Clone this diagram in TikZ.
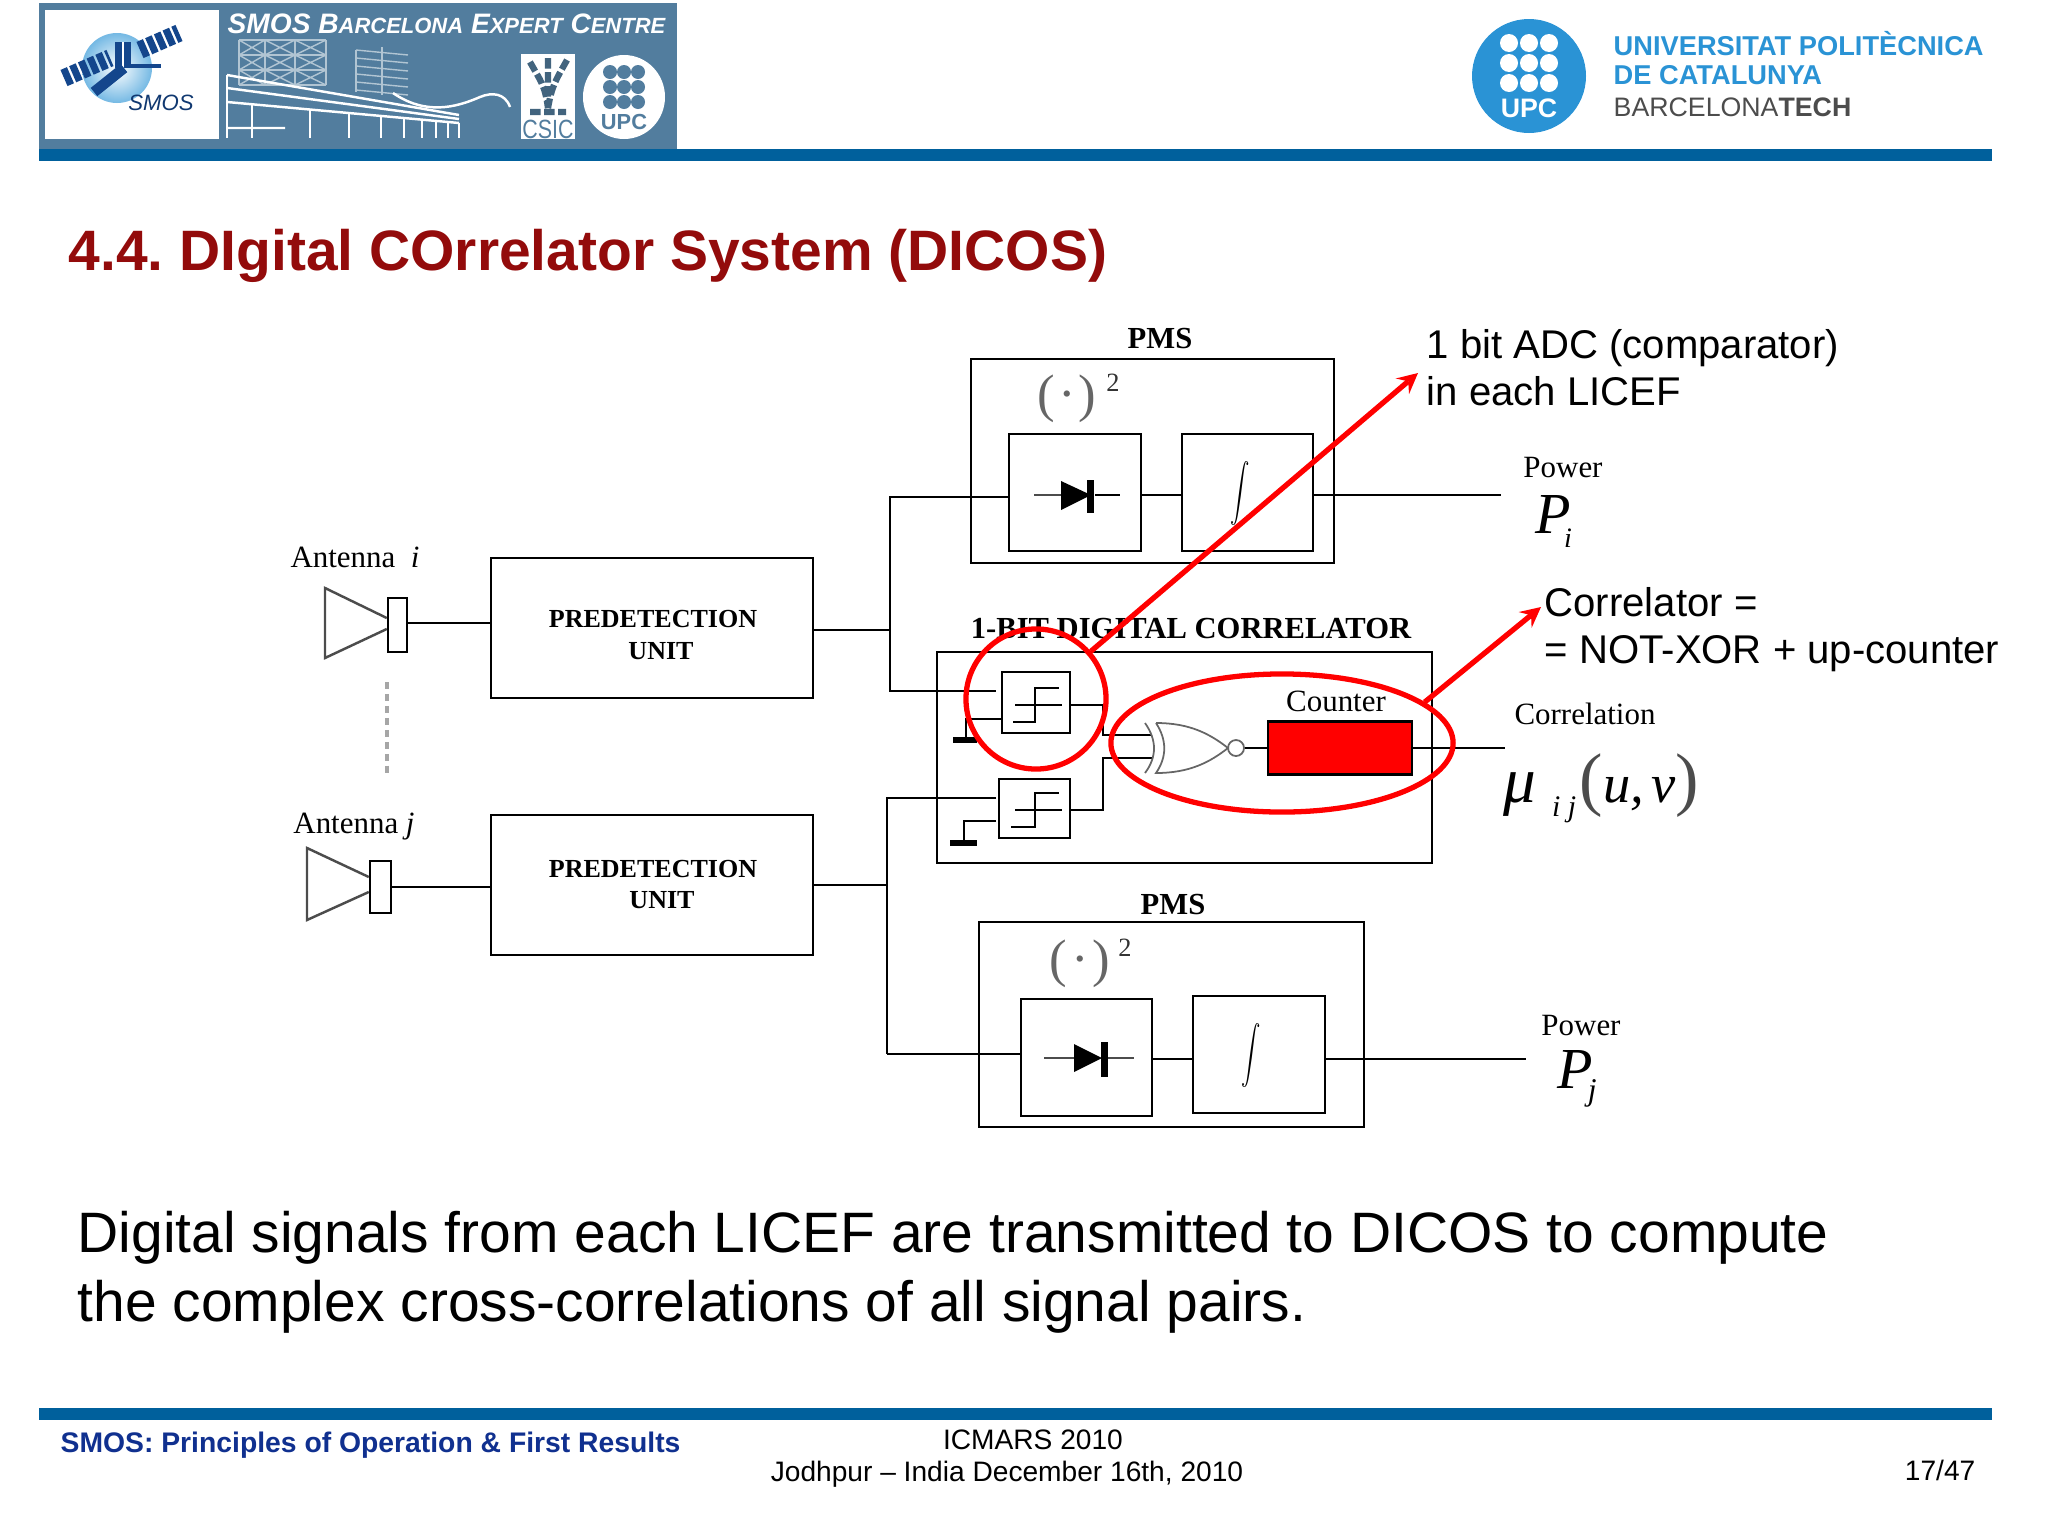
\documentclass[tikz,border=0pt]{standalone}
\usepackage{fontspec}
\setmainfont{Liberation Sans}
\newfontfamily\figserif{Liberation Serif}
\usetikzlibrary{shapes.geometric}
\frenchspacing
\definecolor{barblue}{HTML}{00609C}
\definecolor{bannerblue}{HTML}{527D9E}
\definecolor{logoblue}{HTML}{2A93D5}
\definecolor{navyblue}{HTML}{14468C}
\definecolor{footblue}{HTML}{10308F}
\definecolor{titlered}{HTML}{930B0B}
\tikzset{
    blockbox/.style 2 args={draw=black, line width=0.7pt, inner sep=0pt,
        minimum width=#1*0.01cm, minimum height=#2*0.01cm},
    wire/.style={draw=black, line width=0.7pt},
    redring/.style={draw=red, line width=1.5pt, inner sep=0pt},
    redarrow/.style={draw=red, line width=1.5pt, -stealth},
    figlabel/.style={font=\figserif\fontsize{8.8}{10}\selectfont, inner sep=0pt},
    figbold/.style={font=\figserif\bfseries\fontsize{8.7}{10}\selectfont, inner sep=0pt},
    unitlabel/.style={font=\figserif\bfseries\fontsize{7.4}{9}\selectfont, inner sep=0pt},
    bignote/.style={font=\fontsize{11.4}{13.3}\selectfont, align=left, anchor=west, inner sep=0pt},
    footlabel/.style={font=\fontsize{8}{9}\selectfont, inner sep=0pt},
    mathbig/.style={font=\figserif\itshape\fontsize{16.5}{18}\selectfont, inner sep=0pt, anchor=base west},
    squarelabel/.style={font=\figserif\fontsize{15}{17}\selectfont, text=black!60, inner sep=0pt},
    powertwo/.style={font=\figserif\fontsize{7.5}{9}\selectfont, text=black!80, inner sep=0pt},
    intsign/.style={inner sep=0pt, xscale=0.55, yscale=0.82},
}
\begin{document}
\begin{tikzpicture}[x=0.01cm, y=-0.01cm]
    \useasboundingbox (0,0) rectangle (2048,1536);
    % Banner
    \fill[bannerblue] (39,3) rectangle (677,149);
    \fill[white] (45,10) rectangle (219,139);
    \fill[barblue] (39,149) rectangle (1992,161);
    \node[inner sep=0pt, anchor=west, text=white, font=\bfseries\itshape\fontsize{8}{9}\selectfont] (bannertitle) at (227,24)
        {SMOS B{\fontsize{6.25}{9}\selectfont ARCELONA} E{\fontsize{6.25}{9}\selectfont XPERT} C{\fontsize{6.25}{9}\selectfont ENTRE}};
    % SMOS logo
    \shade[inner color=white, outer color=logoblue!65] (117,68) circle[radius=35];
    \draw[navyblue, line width=5pt, dash pattern=on 2pt off 0.7pt] (64,78) -- (110,58);
    \draw[navyblue, line width=5pt, dash pattern=on 2pt off 0.7pt] (140,50) -- (179,33);
    \fill[navyblue] (115,42) rectangle (131,68);
    \draw[white] (123,42) -- (123,68);
    \draw[navyblue, line width=3pt] (94,92) -- (124,68);
    \draw[navyblue, line width=1pt] (131,66) -- (161,66);
    \node[inner sep=0pt, text=navyblue!80!black, font=\itshape\fontsize{6.3}{8}\selectfont] (smoslabel) at (161,103) {SMOS};
    % Building
    \begin{scope}[white!55!bannerblue, line width=0.4pt]
        \foreach \tx in {239,265,295,326} \draw (\tx,40) -- (\tx,85);
        \foreach \ty in {40,55,70,85} \draw (239,\ty) -- (326,\ty);
        \foreach \ty in {40,55,70} {
            \draw (239,\ty) -- (265,\ty+15) (265,\ty) -- (239,\ty+15);
            \draw (265,\ty) -- (295,\ty+15) (295,\ty) -- (265,\ty+15);
            \draw (295,\ty) -- (326,\ty+15) (326,\ty) -- (295,\ty+15);
        }
        \foreach \ty in {50,58,66,74,82,90} \draw (356,\ty) -- (408,\ty+5);
        \draw (356,50) -- (356,92) (382,47) -- (382,95);
    \end{scope}
    \begin{scope}[white, line width=0.7pt]
        \draw (227,75) -- (459,115) (227,102) -- (459,123) (227,88) -- (459,119) (227,128) -- (285,128);
        \foreach \px in {227,252,310,349,381,404,422,436,448,459} \draw (\px,{102+(\px-227)*0.09}) -- (\px,138);
        \draw (227,75) -- (227,102);
        \draw (393,93) .. controls (425,115) and (455,108) .. (480,97) .. controls (492,92) and (505,93) .. (510,107);
    \end{scope}
    % CSIC and UPC marks of the banner
    \fill[white] (521,54) rectangle (575,139);
    \draw[bannerblue!80!black, line width=1.8pt, dash pattern=on 3pt off 1pt] (530,62) .. controls (540,80) and (545,85) .. (548,108) (567,60) .. controls (556,80) and (552,85) .. (548,108) (548,58) -- (548,108) (530,112) -- (566,112);
    \node[inner sep=0pt, text=bannerblue, xscale=0.81, font=\fontsize{7.5}{8}\selectfont] (csiclabel) at (548,129) {CSIC};
    \fill[white] (624,97) ellipse[x radius=41, y radius=42];
    \foreach \dx in {610,624,638} \foreach \dy in {72,87,102}
        \fill[bannerblue] (\dx,\dy) circle[radius=7];
    \node[inner sep=0pt, text=bannerblue, font=\bfseries\fontsize{6.2}{7}\selectfont] (upcsmall) at (624,122) {UPC};
    % UPC logo
    \fill[logoblue] (1529,76) circle[radius=57];
    \foreach \dx in {1509,1529,1549} \foreach \dy in {43,63,83}
        \fill[white] (\dx,\dy) circle[radius=9];
    \node[inner sep=0pt, text=white, font=\bfseries\fontsize{7.6}{9}\selectfont] (upclabel) at (1529,108) {UPC};
    \node[inner sep=0pt, anchor=west, text=logoblue, font=\bfseries\fontsize{7.75}{9}\selectfont] (upcnameA) at (1613,44) {UNIVERSITAT POLITÈCNICA};
    \node[inner sep=0pt, anchor=west, text=logoblue, font=\bfseries\fontsize{7.75}{9}\selectfont] (upcnameB) at (1613,75) {DE CATALUNYA};
    \node[inner sep=0pt, anchor=west, text=black!70, font=\fontsize{7.6}{9}\selectfont] (upcnameC) at (1613,107) {BARCELONA\textbf{TECH}};
    % Title
    \node[inner sep=0pt, anchor=west, text=titlered, font=\bfseries\fontsize{16.2}{19}\selectfont] (slidetitle) at (68,256)
        {4.4. DIgital COrrelator System (DICOS)};
    % Antennas
    \node[blockbox={19}{54}] (hornboxA) at (397.5,625) {};
    \node[blockbox={21}{52}] (hornboxB) at (380.5,887) {};
    \draw[black!70, line width=0.7pt] (hornboxA.west |- 0,618) -- (325,588) -- (325,658) -- (hornboxA.west |- 0,629);
    \draw[black!70, line width=0.7pt] (hornboxB.west |- 0,877) -- (307,848) -- (307,920) -- (hornboxB.west |- 0,892);
    \draw[black!35, line width=1.2pt, dash pattern=on 2pt off 1.4pt] (387,682) -- (387,777);
    \node[figlabel] (antennaA) at (355,557) {Antenna\ \ \textit{i}};
    \node[figlabel] (antennaB) at (354,827) {Antenna \textit{j}};
    % Predetection units
    \node[blockbox={322}{140}] (predA) at (652,628) {};
    \node[blockbox={322}{140}] (predB) at (652,885) {};
    \node[unitlabel] (predAtop) at (653,619) {PREDETECTION};
    \node[unitlabel] (predAbot) at (661,651) {UNIT};
    \node[unitlabel] (predBtop) at (653,869) {PREDETECTION};
    \node[unitlabel] (predBbot) at (662,900) {UNIT};
    \draw[wire] (hornboxA.east |- 0,623) -- (predA.west |- 0,623);
    \draw[wire] (hornboxB.east) -- (predB.west |- hornboxB.east);
    % PMS top
    \node[blockbox={363}{204}] (pmsA) at (1152.5,461) {};
    \node[blockbox={132}{117}] (diodeboxA) at (1075,492.5) {};
    \node[blockbox={131}{117}] (intboxA) at (1247.5,492.5) {};
    \node[figbold] (pmsAlabel) at (1160,339) {PMS};
    \node[squarelabel] (squareA) at (1067,399) {(\kern0.8pt·\kern0.8pt)};
    \node[powertwo] (twoA) at (1113,383) {2};
    \draw[black!70, line width=0.5pt] (1034,495) -- (1061,495);
    \draw[wire] (1095,495) -- (1120,495);
    \fill (1061,481) -- (1061,510) -- (1091,495) -- cycle;
    \fill (1087,480) rectangle (1094,513);
    \node[intsign] (intA) at (1240,494) {$\displaystyle\int$};
    \draw[wire] (diodeboxA.east |- 0,495) -- (intboxA.west |- 0,495);
    \coordinate (powerAend) at (1501,495);
    \draw[wire] (intboxA.east |- powerAend) -- (powerAend);
    \node[figlabel] (powerA) at (1563,468) {Power};
    \node[mathbig] (symA) at (1535,533) {P\raisebox{-4pt}{\fontsize{8}{10}\selectfont\kern-2pt i}};
    % Correlator
    \node[blockbox={495}{211}] (corrbox) at (1184.5,757.5) {};
    \node[figbold] (corrlabel) at (1191,629) {1-BIT DIGITAL CORRELATOR};
    \node[blockbox={68}{61}] (compA) at (1036,702.5) {};
    \node[blockbox={71}{59}] (compB) at (1034.5,808.5) {};
    % Step symbols
    \draw[wire] (1015,705) -- (1062,705);
    \draw[wire] (1013,722) -- (1035,722) -- (1035,688) -- (1059,688);
    \draw[wire] (1015,810) -- (1062,810);
    \draw[wire] (1011,827) -- (1035,827) -- (1035,793) -- (1059,793);
    % Comparator references
    \coordinate (groundA) at (966,740);
    \coordinate (groundB) at (964,843);
    \draw[wire] (compA.west |- 0,719) -- (groundA |- 0,719) -- (groundA);
    \draw[wire] (996,821) -- (groundB |- 0,821) -- (groundB);
    \fill (953,737) rectangle (977,743);
    \fill (950,840) rectangle (977,846);
    % Feeding wires
    \coordinate (tapA) at (890,630);
    \coordinate (tapB) at (887,885);
    \draw[wire] (predA.east |- tapA) -- (tapA);
    \draw[wire] (predB.east |- tapB) -- (tapB);
    \draw[wire] (diodeboxA.west |- 0,497) -- (tapA |- 0,497) -- (tapA |- 0,691) -- (996,691);
    \draw[wire] (996,798) -- (tapB |- 0,798) -- (tapB |- 0,1054);
    % XNOR
    \coordinate (xnorinA) at (1152,735);
    \coordinate (xnorinB) at (1152,758);
    \draw[wire] (compA.east |- 0,705) -- (1103,705) -- (1103,735) -- (xnorinA);
    \draw[wire] (compB.east |- 0,810) -- (1103,810) -- (1103,758) -- (xnorinB);
    \draw[black!60, line width=0.5pt] (1145,723) .. controls (1157,740) and (1157,757) .. (1145,773);
    \draw[black!60, line width=0.5pt] (1156,723) .. controls (1167,740) and (1167,757) .. (1156,773)
        .. controls (1190,773) and (1210,762) .. (1228,748) .. controls (1210,734) and (1190,723) .. (1156,723);
    \node[circle, draw=black!60, line width=0.5pt, minimum size=0.16cm, inner sep=0pt] (xnorout) at (1236,748) {};
    \node[blockbox={144}{53}, fill=red] (counterbox) at (1340,748) {};
    \node[figlabel] (counterlabel) at (1336,701) {Counter};
    \draw[wire] (xnorout) -- (counterbox);
    \coordinate (corrend) at (1505,748);
    \draw[wire] (counterbox) -- (corrend);
    \node[figlabel] (corrname) at (1585,714) {Correlation};
    \node[mathbig] (symcorr) at (1503,802) {\fontsize{18.5}{18}\selectfont μ\kern4.5pt\raisebox{-4pt}{\fontsize{8.5}{10}\selectfont i j}\fontsize{15.5}{18}\selectfont\kern1pt{\upshape\fontsize{20}{20}\selectfont\color{black!70}(}u,\kern2pt v{\upshape\fontsize{20}{20}\selectfont\color{black!70})}};
    % PMS bottom
    \node[blockbox={385}{205}] (pmsB) at (1171.5,1024.5) {};
    \node[blockbox={131}{117}] (diodeboxB) at (1086.5,1057.5) {};
    \node[blockbox={132}{117}] (intboxB) at (1259,1054.5) {};
    \node[figbold] (pmsBlabel) at (1173,905) {PMS};
    \node[squarelabel] (squareB) at (1080,964) {(\kern1.2pt·\kern1.2pt)};
    \node[powertwo] (twoB) at (1125,948) {2};
    \draw[black!70, line width=0.5pt] (1044,1058) -- (1074,1058);
    \draw[black!70, line width=0.5pt] (1107,1058) -- (1134,1058);
    \fill (1074,1044) -- (1074,1072) -- (1102,1058) -- cycle;
    \fill (1101,1042) rectangle (1108,1077);
    \node[intsign] (intB) at (1251,1056) {$\displaystyle\int$};
    \draw[wire] (tapB |- 0,1054) -- (diodeboxB.west |- 0,1054);
    \draw[wire] (diodeboxB.east |- 0,1059) -- (intboxB.west |- 0,1059);
    \coordinate (powerBend) at (1526,1059);
    \draw[wire] (intboxB.east |- powerBend) -- (powerBend);
    \node[figlabel] (powerB) at (1581,1026) {Power};
    \node[mathbig] (symB) at (1557,1088) {P\raisebox{-3.5pt}{\fontsize{9}{10}\selectfont\kern-1.5pt j}};
    % Red marks
    \node[redring, circle, minimum size=1.4cm] (adcring) at (1036,699) {};
    \node[redring, ellipse, minimum width=3.42cm, minimum height=1.38cm] (corrring) at (1282,743) {};
    \coordinate (adctip) at (1418,373);
    \coordinate (corrtip) at (1541,607);
    \draw[redarrow] (adcring.41) -- (adctip);
    \draw[redarrow] (corrring.16) -- (corrtip);
    \node[bignote] (adcnote) at (1426,368) {1 bit ADC (comparator)\\in each LICEF};
    \node[bignote] (corrnote) at (1544,630) {Correlator =\\= NOT-XOR + up-counter};
    % Text
    \node[inner sep=0pt, anchor=west, align=left, font=\fontsize{16.2}{19.7}\selectfont] (bodytext) at (77,1272)
        {Digital signals from each LICEF are transmitted to DICOS to compute\\the complex cross-correlations of all signal pairs.};
    % Footer
    \fill[barblue] (39,1408) rectangle (1992,1420);
    \node[inner sep=0pt, anchor=west, text=footblue, font=\bfseries\fontsize{8.05}{9}\selectfont] (footleft) at (60,1445)
        {SMOS: Principles of Operation \& First Results};
    \node[footlabel] (footconf) at (1033,1440) {ICMARS 2010};
    \node[footlabel] (footplace) at (1007,1474) {Jodhpur – India December 16th, 2010};
    \node[footlabel, anchor=east] (footpage) at (1976,1470) {17/47};
\end{tikzpicture}
\end{document}
